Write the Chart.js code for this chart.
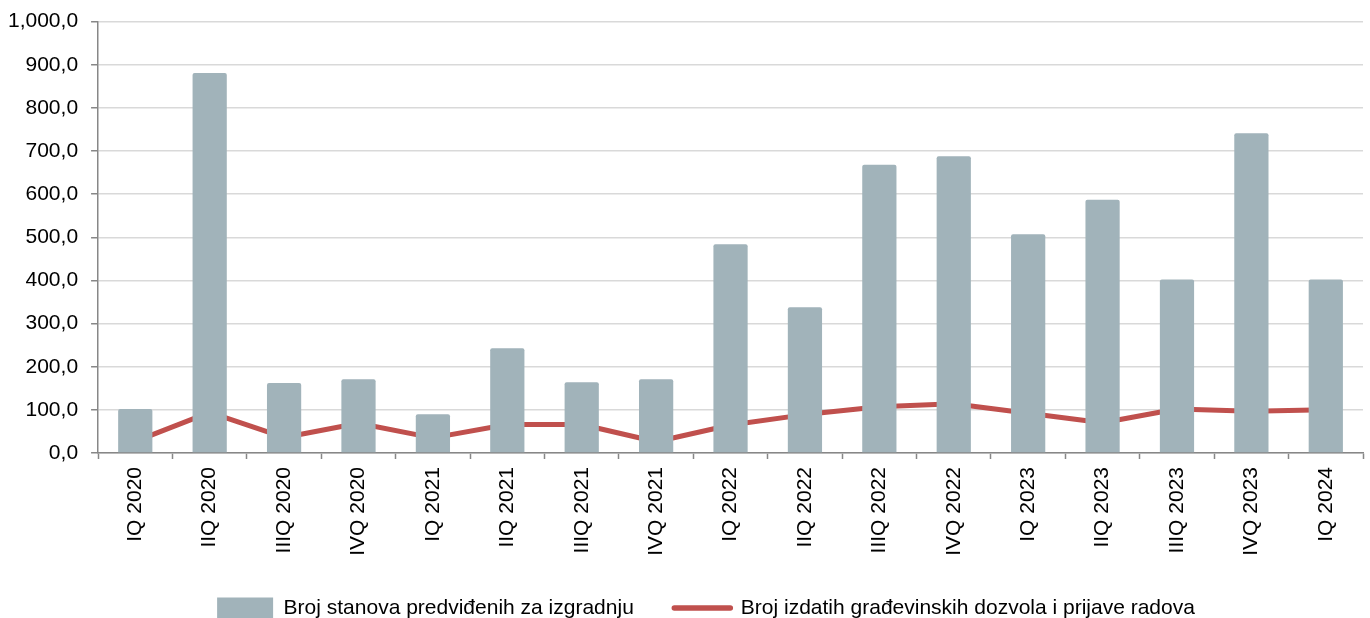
<!DOCTYPE html>
<html>
<head>
<meta charset="utf-8">
<script src="https://cdn.jsdelivr.net/npm/chart.js@4/dist/chart.umd.min.js"></script>
<style>
  html, body { margin: 0; padding: 0; background: #fff; }
  #wrap { width: 1370px; height: 618px; }
</style>
</head>
<body>
<div id="wrap"><canvas id="chart"></canvas></div>
<script>
const quarters = [
  'IQ 2020', 'IIQ 2020', 'IIIQ 2020', 'IVQ 2020',
  'IQ 2021', 'IIQ 2021', 'IIIQ 2021', 'IVQ 2021',
  'IQ 2022', 'IIQ 2022', 'IIIQ 2022', 'IVQ 2022',
  'IQ 2023', 'IIQ 2023', 'IIIQ 2023', 'IVQ 2023',
  'IQ 2024'
]
const flats = [102, 881, 162, 171, 90, 243, 164, 171, 484, 338, 668, 688, 507, 587, 402, 741, 402]
const permits = [27, 94, 36, 69, 35, 66, 66, 26, 65, 89, 107, 114, 92, 70, 102, 97, 100]
const seriesNames = [
  'Broj stanova predviđenih za izgradnju',
  'Broj izdatih građevinskih dozvola i prijave radova'
]

const grey = '#a1b3ba'
const red = '#c0504d'
const axisGrey = '#878787'
const family = '"Liberation Sans", Arial, sans-serif'

const fmt = v => v.toLocaleString('en-US') + ',0'

// nudge the legend row a bit to the right, like the original
const legendShift = {
  id: 'legendShift',
  afterLayout: chart => {
    chart.legend.left += 27
    chart.legend.right += 27
  }
}

new Chart(document.getElementById('chart').getContext('2d'), {
  data: {
    labels: quarters,
    datasets: [
      {
        type: 'bar',
        label: seriesNames[0],
        data: flats,
        backgroundColor: grey,
        borderRadius: 2,
        borderSkipped: 'bottom',
        barPercentage: 0.46,
        categoryPercentage: 1
      },
      {
        type: 'line',
        label: seriesNames[1],
        data: permits,
        borderColor: red,
        backgroundColor: red,
        borderWidth: 5,
        borderCapStyle: 'round',
        borderJoinStyle: 'round',
        pointRadius: 0,
        tension: 0
      }
    ]
  },
  options: {
    responsive: true,
    maintainAspectRatio: false,
    animation: false,
    layout: { padding: { top: 4, right: 7, left: -5, bottom: -10.5 } },
    scales: {
      x: {
        offset: true,
        grid: {
          display: true,
          offset: true,
          drawOnChartArea: false,
          tickLength: 6,
          tickColor: axisGrey,
          tickWidth: 1.5
        },
        border: { color: axisGrey, width: 1.5 },
        ticks: {
          minRotation: 90,
          maxRotation: 90,
          autoSkip: false,
          padding: 8,
          color: '#000',
          font: { family, size: 21 }
        },
        afterFit: s => { s.height = 104 }
      },
      y: {
        min: 0,
        max: 1000,
        grid: {
          color: '#d9d9d9',
          lineWidth: 1.5,
          tickLength: 7,
          tickColor: axisGrey,
          tickWidth: 1.5
        },
        border: { color: axisGrey, width: 1.5 },
        ticks: {
          stepSize: 100,
          padding: 13,
          color: '#000',
          font: { family, size: 21, lineHeight: 0.82 },
          callback: v => fmt(v)
        }
      }
    },
    plugins: {
      tooltip: { enabled: false },
      legend: {
        position: 'bottom',
        labels: {
          usePointStyle: true,
          pointStyleWidth: 56,
          padding: 40.5,
          color: '#000',
          font: { family, size: 21 },
          generateLabels: chart => [
            {
              text: seriesNames[0],
              fillStyle: grey,
              strokeStyle: grey,
              lineWidth: 0,
              pointStyle: 'rect',
              datasetIndex: 0,
              fontColor: '#000'
            },
            {
              text: seriesNames[1],
              fillStyle: red,
              strokeStyle: red,
              lineWidth: 5.5,
              lineCap: 'round',
              pointStyle: 'line',
              datasetIndex: 1,
              fontColor: '#000'
            }
          ]
        }
      }
    }
  },
  plugins: [legendShift]
})
</script>
</body>
</html>
